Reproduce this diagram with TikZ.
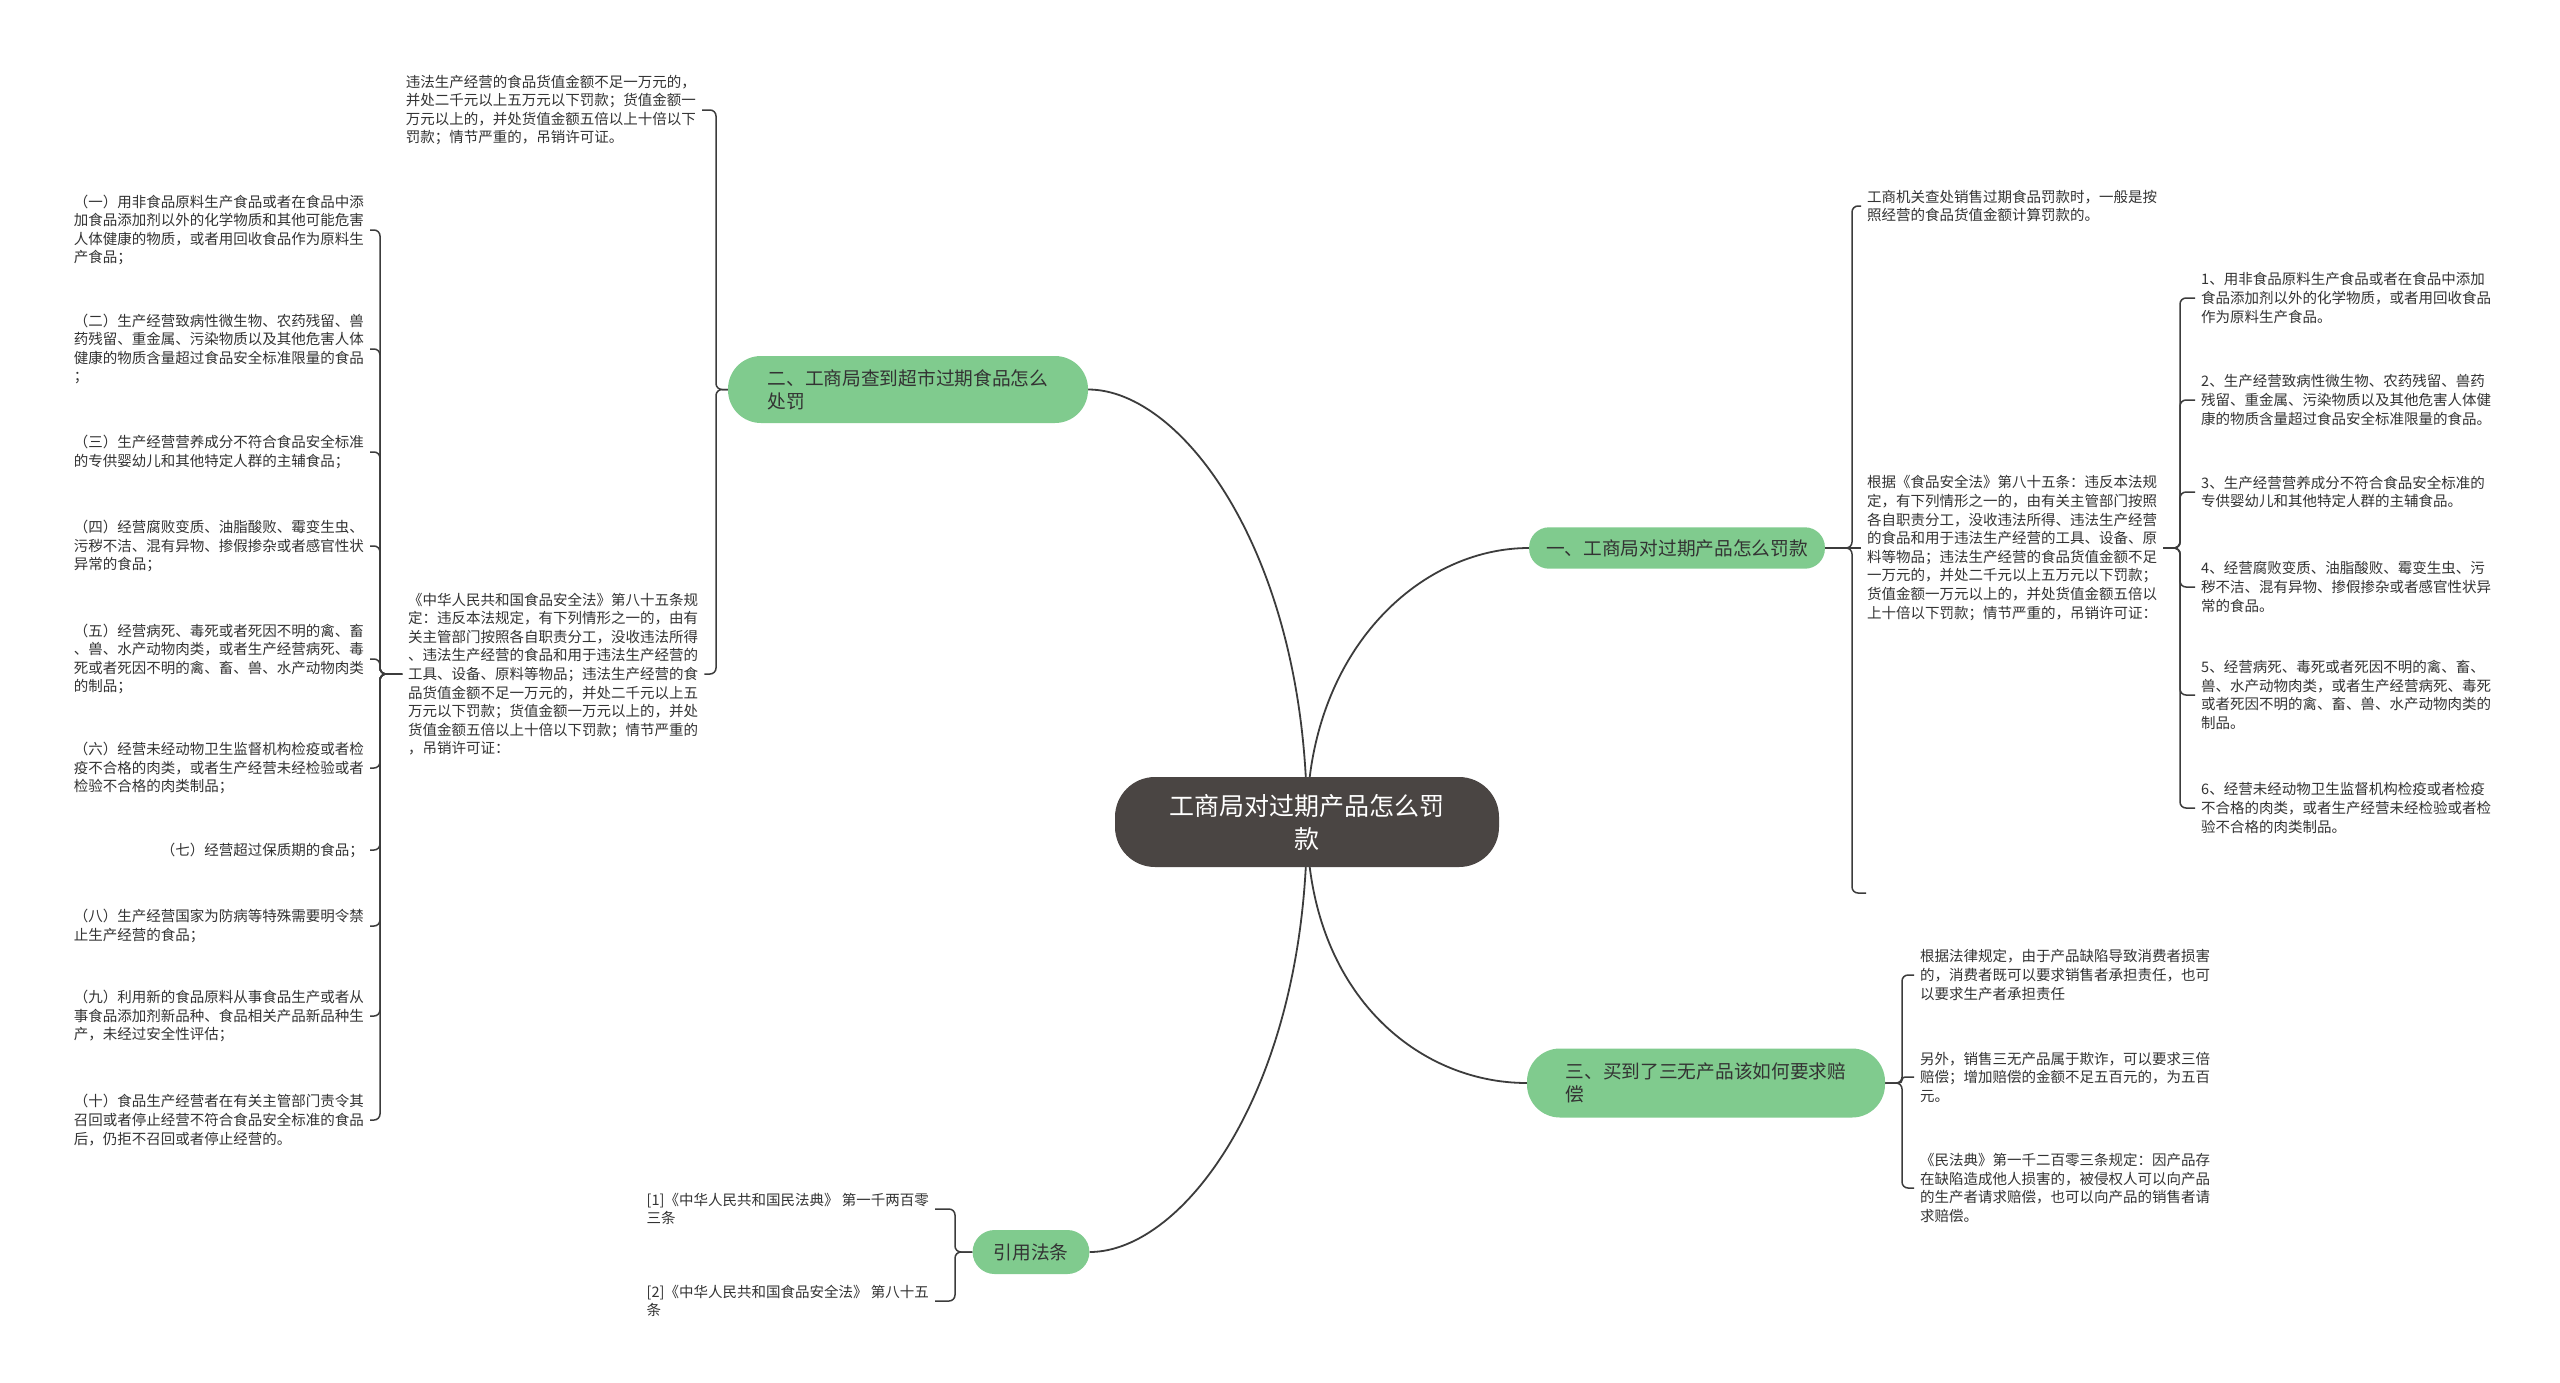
\documentclass[tikz,border=0pt]{standalone}
\usepackage{fontspec}
\setmainfont{Noto Sans CJK SC}
\usetikzlibrary{backgrounds,calc}
\definecolor{astgruen}{HTML}{80CB8E}
\definecolor{kerngrau}{HTML}{4A4543}
\definecolor{linie}{HTML}{3C3C3C}
\definecolor{schrift}{HTML}{333333}
\newcommand{\blattschrift}{\fontsize{14.5pt}{18.6pt}\selectfont}
\newcommand{\astschrift}{\fontsize{18.7pt}{23pt}\selectfont}
\newcommand{\kernschrift}{\fontsize{25pt}{33pt}\selectfont}
\begin{document}
\begin{tikzpicture}[x=1pt, y=-1pt, line join=round,
	kern/.style = {fill=kerngrau, text=white, font=\kernschrift, align=center, rounded corners=40pt, minimum width=384pt, minimum height=90pt, inner ysep=16pt},
	ast/.style = {fill=astgruen, text=schrift, font=\astschrift, align=left, rounded corners=#1, inner xsep=19pt, inner ysep=12pt},
	ast/.default = 20pt,
	blatt/.style = {text=schrift, font=\blattschrift, align=left, inner sep=6pt},
	hauptlinie/.style = {draw=linie, line width = 1.8pt},
	zweig/.style = {draw=linie, line width = 1.5pt, rounded corners=6pt}]
	\useasboundingbox (0,0) rectangle (2560,1382);
	% Mitte
	\node [kern] (kern) at (1307,822) {工商局对过期产品怎么罚\\款};
	% Hauptäste
	\node [ast=33pt, minimum width=360pt, minimum height=67pt] (ast2) at (908,389.5) {二、工商局查到超市过期食品怎么\\处罚};
	\node [ast=20pt, inner xsep=17pt, minimum height=41pt] (ast1) at (1677,548) {一、工商局对过期产品怎么罚款};
	\node [ast=33pt, minimum width=358pt, minimum height=69pt] (ast3) at (1706,1083) {三、买到了三无产品该如何要求赔\\偿};
	\node [ast=22pt, inner xsep=21pt, minimum height=44pt] (ast4) at (1031,1252) {引用法条};
	% Linke Seite
	\node [blatt, anchor=east] (b2a) at (702,110) {违法生产经营的食品货值金额不足一万元的，\\并处二千元以上五万元以下罚款；货值金额一\\万元以上的，并处货值金额五倍以上十倍以下\\罚款；情节严重的，吊销许可证。};
	\node [blatt, anchor=west] (b2b) at (402,674) {《中华人民共和国食品安全法》第八十五条规\\定：违反本法规定，有下列情形之一的，由有\\关主管部门按照各自职责分工，没收违法所得\\、违法生产经营的食品和用于违法生产经营的\\工具、设备、原料等物品；违法生产经营的食\\品货值金额不足一万元的，并处二千元以上五\\万元以下罚款；货值金额一万元以上的，并处\\货值金额五倍以上十倍以下罚款；情节严重的\\，吊销许可证：};
	\node [blatt, anchor=east] (g1) at (370,230) {（一）用非食品原料生产食品或者在食品中添\\加食品添加剂以外的化学物质和其他可能危害\\人体健康的物质，或者用回收食品作为原料生\\产食品；};
	\node [blatt, anchor=east] (g2) at (370,349) {（二）生产经营致病性微生物、农药残留、兽\\药残留、重金属、污染物质以及其他危害人体\\健康的物质含量超过食品安全标准限量的食品\\；};
	\node [blatt, anchor=east] (g3) at (370,452) {（三）生产经营营养成分不符合食品安全标准\\的专供婴幼儿和其他特定人群的主辅食品；};
	\node [blatt, anchor=east] (g4) at (370,546) {（四）经营腐败变质、油脂酸败、霉变生虫、\\污秽不洁、混有异物、掺假掺杂或者感官性状\\异常的食品；};
	\node [blatt, anchor=east] (g5) at (370,659) {（五）经营病死、毒死或者死因不明的禽、畜\\、兽、水产动物肉类，或者生产经营病死、毒\\死或者死因不明的禽、畜、兽、水产动物肉类\\的制品；};
	\node [blatt, anchor=east] (g6) at (370,768) {（六）经营未经动物卫生监督机构检疫或者检\\疫不合格的肉类，或者生产经营未经检验或者\\检验不合格的肉类制品；};
	\node [blatt, anchor=east] (g7) at (370,850) {（七）经营超过保质期的食品；};
	\node [blatt, anchor=east] (g8) at (370,926) {（八）生产经营国家为防病等特殊需要明令禁\\止生产经营的食品；};
	\node [blatt, anchor=east] (g9) at (370,1016) {（九）利用新的食品原料从事食品生产或者从\\事食品添加剂新品种、食品相关产品新品种生\\产，未经过安全性评估；};
	\node [blatt, anchor=east] (g10) at (370,1120) {（十）食品生产经营者在有关主管部门责令其\\召回或者停止经营不符合食品安全标准的食品\\后，仍拒不召回或者停止经营的。};
	\node [blatt, anchor=east] (q1) at (935,1209) {[1]《中华人民共和国民法典》 第一千两百零\\三条};
	\node [blatt, anchor=east] (q2) at (935,1301) {[2]《中华人民共和国食品安全法》 第八十五\\条};
	% Rechte Seite
	\node [blatt, anchor=west] (b1a) at (1861,206) {工商机关查处销售过期食品罚款时，一般是按\\照经营的食品货值金额计算罚款的。};
	\node [blatt, anchor=west] (b1b) at (1861,548) {根据《食品安全法》第八十五条：违反本法规\\定，有下列情形之一的，由有关主管部门按照\\各自职责分工，没收违法所得、违法生产经营\\的食品和用于违法生产经营的工具、设备、原\\料等物品；违法生产经营的食品货值金额不足\\一万元的，并处二千元以上五万元以下罚款；\\货值金额一万元以上的，并处货值金额五倍以\\上十倍以下罚款；情节严重的，吊销许可证：};
	\node [blatt, anchor=west] (r1) at (2195,298) {1、用非食品原料生产食品或者在食品中添加\\食品添加剂以外的化学物质，或者用回收食品\\作为原料生产食品。};
	\node [blatt, anchor=west] (r2) at (2195,400) {2、生产经营致病性微生物、农药残留、兽药\\残留、重金属、污染物质以及其他危害人体健\\康的物质含量超过食品安全标准限量的食品。};
	\node [blatt, anchor=west] (r3) at (2195,492) {3、生产经营营养成分不符合食品安全标准的\\专供婴幼儿和其他特定人群的主辅食品。};
	\node [blatt, anchor=west] (r4) at (2195,587) {4、经营腐败变质、油脂酸败、霉变生虫、污\\秽不洁、混有异物、掺假掺杂或者感官性状异\\常的食品。};
	\node [blatt, anchor=west] (r5) at (2195,695) {5、经营病死、毒死或者死因不明的禽、畜、\\兽、水产动物肉类，或者生产经营病死、毒死\\或者死因不明的禽、畜、兽、水产动物肉类的\\制品。};
	\node [blatt, anchor=west] (r6) at (2195,808) {6、经营未经动物卫生监督机构检疫或者检疫\\不合格的肉类，或者生产经营未经检验或者检\\验不合格的肉类制品。};
	\node [blatt, anchor=west] (k1) at (1914,975) {根据法律规定，由于产品缺陷导致消费者损害\\的，消费者既可以要求销售者承担责任，也可\\以要求生产者承担责任};
	\node [blatt, anchor=west] (k2) at (1914,1077) {另外，销售三无产品属于欺诈，可以要求三倍\\赔偿；增加赔偿的金额不足五百元的，为五百\\元。};
	\node [blatt, anchor=west] (k3) at (1914,1188) {《民法典》第一千二百零三条规定：因产品存\\在缺陷造成他人损害的，被侵权人可以向产品\\的生产者请求赔偿，也可以向产品的销售者请\\求赔偿。};
	% Stammlinien
	\coordinate (s2) at (716,0);
	\coordinate (s2b) at (380,0);
	\coordinate (s1) at (1852,0);
	\coordinate (s1b) at (2180,0);
	\coordinate (s3) at (1902,0);
	\coordinate (s4) at (955,0);
	\coordinate (e1) at (1866,893);
	\begin{scope}[on background layer]
		\fill [white] (0,0) rectangle (2560,1382);
		% Verbindungen zur Mitte
		\draw [hauptlinie] (kern.center) .. controls ($(kern.center)+(0,-265)$) and ($(ast2.east)+(95,0)$) .. (ast2.east);
		\draw [hauptlinie] (kern.center) .. controls ($(kern.center)+(0,-170)$) and ($(ast1.west)+(-110,0)$) .. (ast1.west);
		\draw [hauptlinie] (kern.center) .. controls ($(kern.center)+(0,170)$) and ($(ast3.west)+(-110,0)$) .. (ast3.west);
		\draw [hauptlinie] (kern.center) .. controls ($(kern.center)+(0,265)$) and ($(ast4.east)+(95,0)$) .. (ast4.east);
		% Zweige
		\draw [zweig] (ast2.west) -- (ast2.west -| s2) |- (b2a.east);
		\draw [zweig] (ast2.west) -- (ast2.west -| s2) |- (b2b.east);
		\foreach \i in {1,...,10}
			\draw [zweig] (b2b.west) -- (b2b.west -| s2b) |- (g\i.east);
		\draw [zweig] (ast4.west) -- (ast4.west -| s4) |- (q1.east);
		\draw [zweig] (ast4.west) -- (ast4.west -| s4) |- (q2.east);
		\draw [zweig] (ast1.east) -- (ast1.east -| s1) |- (b1a.west);
		\draw [zweig] (ast1.east) -- (b1b.west);
		\draw [zweig] (ast1.east) -- (ast1.east -| s1) |- (e1);
		\foreach \i in {1,...,6}
			\draw [zweig] (b1b.east) -- (b1b.east -| s1b) |- (r\i.west);
		\draw [zweig] (ast3.east) -- (ast3.east -| s3) |- (k1.west);
		\draw [zweig, rounded corners=3pt] (ast3.east) -- (ast3.east -| s3) |- (k2.west);
		\draw [zweig] (ast3.east) -- (ast3.east -| s3) |- (k3.west);
	\end{scope}
\end{tikzpicture}
\end{document}
